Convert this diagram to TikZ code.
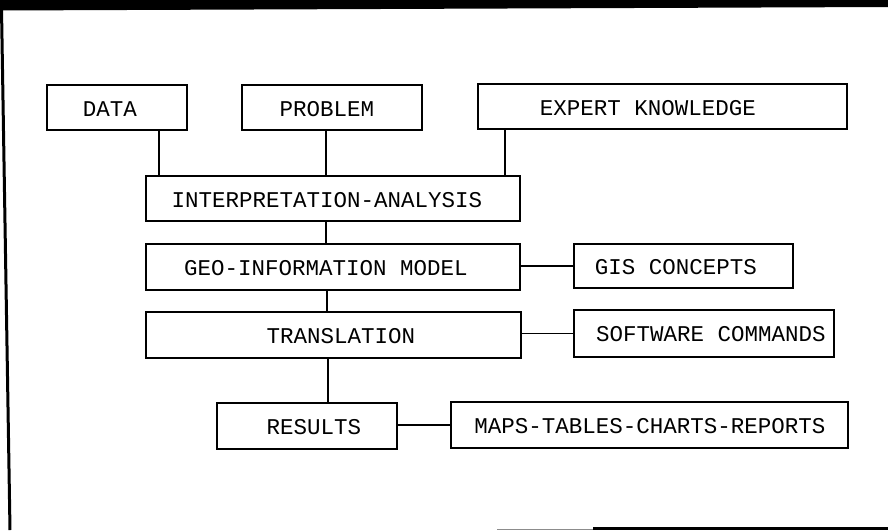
\documentclass[tikz,border=0pt]{standalone}
\usepackage{fontspec}
\setmainfont{Liberation Mono}
\begin{document}
\begin{tikzpicture}[x=1pt,y=-1pt,
  box/.style={draw=black,line width=1.6pt,inner sep=0pt,rectangle},
  lbl/.style={inner sep=0pt,font=\fontsize{22.5}{27}\selectfont},
  conn/.style={line width=1.3pt}]
\useasboundingbox (0,0) rectangle (888,530);
\fill[white] (0,0) rectangle (888,530);
% frame
\fill[black] (0,0) -- (888,0) -- (888,7) -- (0,10.5) -- cycle;
\draw[line width=3pt] (1.5,8) -- (10,530);
\fill[black!45] (497,528.5) rectangle (593,530);
\fill[black] (593,527) rectangle (888,530);
% boxes
\node[box,minimum width=140pt,minimum height=45pt] (data) at (117,107.5) {};
\node[box,minimum width=180pt,minimum height=45pt] (problem) at (332,107.5) {};
\node[box,minimum width=369pt,minimum height=45pt] (expert) at (662.5,106.5) {};
\node[box,minimum width=374pt,minimum height=45pt] (ia) at (333,198.5) {};
\node[box,minimum width=374pt,minimum height=46pt] (geo) at (333,267) {};
\node[box,minimum width=219pt,minimum height=44pt] (gis) at (683.5,266) {};
\node[box,minimum width=375pt,minimum height=46pt] (trans) at (333.5,335) {};
\node[box,minimum width=260pt,minimum height=47pt] (sw) at (704,333.5) {};
\node[box,minimum width=180pt,minimum height=46pt] (results) at (307,426) {};
\node[box,minimum width=397pt,minimum height=46pt] (maps) at (649.5,425) {};
% labels
\node[lbl] (datat) at (110,109) {DATA};
\node[lbl] (problemt) at (327,109) {PROBLEM};
\node[lbl] (expertt) at (648,108) {EXPERT KNOWLEDGE};
\node[lbl] (iat) at (327,200) {INTERPRETATION-ANALYSIS};
\node[lbl] (geot) at (326,268) {GEO-INFORMATION MODEL};
\node[lbl] (gist) at (676,267) {GIS CONCEPTS};
\node[lbl] (transt) at (341,336) {TRANSLATION};
\node[lbl] (swt) at (711,334) {SOFTWARE COMMANDS};
\node[lbl] (resultst) at (314,427) {RESULTS};
\node[lbl] (mapst) at (650,426) {MAPS-TABLES-CHARTS-REPORTS};
% connector columns
\coordinate (k1) at (159,0);
\coordinate (k2) at (326,0);
\coordinate (k3) at (505,0);
\coordinate (k4) at (327,0);
\coordinate (k5) at (328,0);
% connectors
\draw[conn] (data.south -| k1) -- (ia.north -| k1);
\draw[conn] (problem.south -| k2) -- (ia.north -| k2);
\draw[conn] (expert.south -| k3) -- (ia.north -| k3);
\draw[conn] (ia.south -| k2) -- (geo.north -| k2);
\draw[conn] (gis.west -| geo.east) -- (gis.west);
\draw[conn] (geo.south -| k4) -- (trans.north -| k4);
\draw[conn] (sw.west -| trans.east) -- (sw.west);
\draw[conn] (trans.south -| k5) -- (results.north -| k5);
\draw[conn] (results.east) -- (maps.west -| results.east) -- (maps.west);
\end{tikzpicture}
\end{document}
